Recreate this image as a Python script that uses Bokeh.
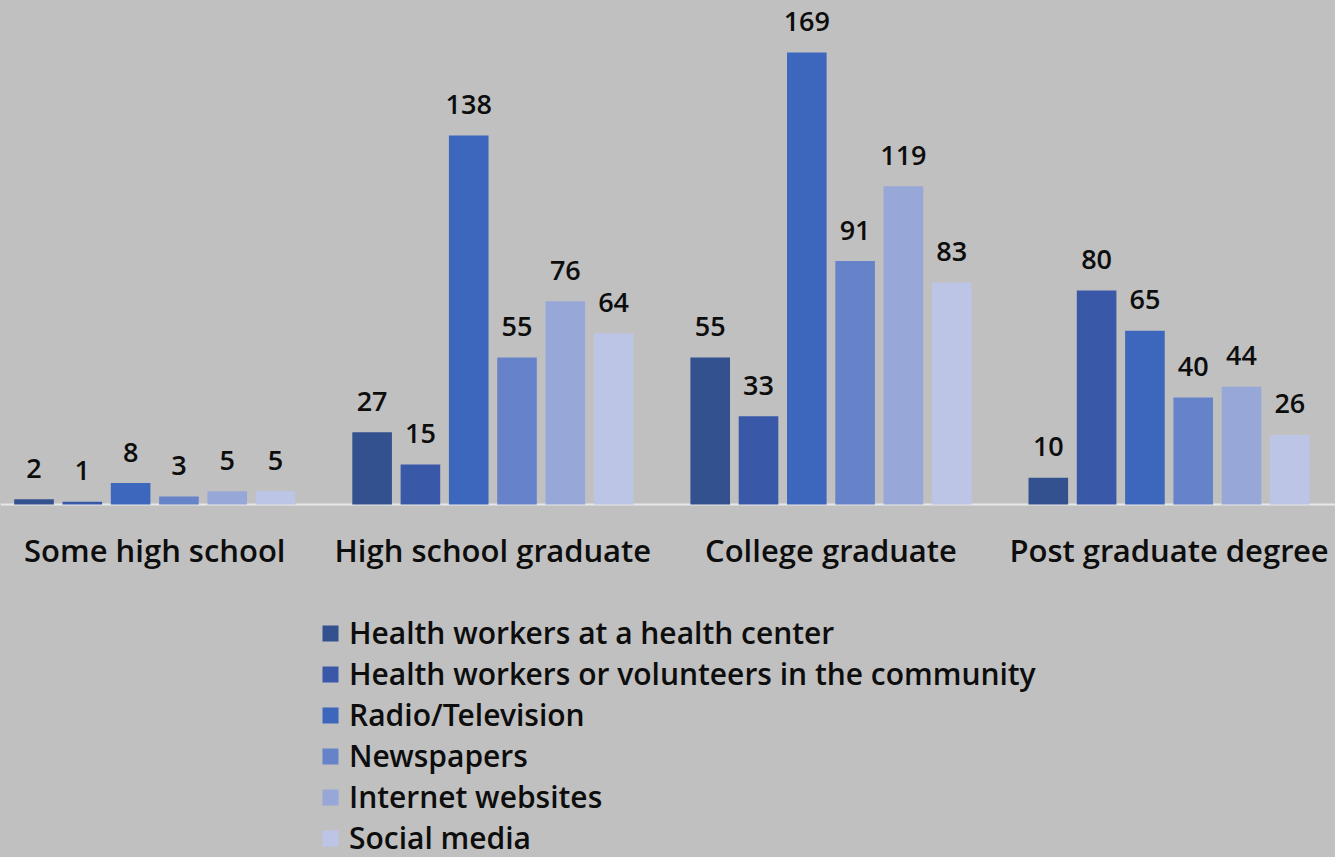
from bokeh.plotting import figure
from bokeh.models import ColumnDataSource, Range1d, Span, Legend, LegendItem
from bokeh.core.properties import value
from bokeh.embed import file_html
from bokeh.resources import INLINE

categories = ["Some high school", "High school graduate", "College graduate", "Post graduate degree"]
series = [
    "Health workers at a health center",
    "Health workers or volunteers in the community",
    "Radio/Television",
    "Newspapers",
    "Internet websites",
    "Social media",
]
health_center = [2, 27, 55, 10]
community = [1, 15, 33, 80]
radio_tv = [8, 138, 169, 65]
newspapers = [3, 55, 91, 40]
internet = [5, 76, 119, 44]
social = [5, 64, 83, 26]

colors = ["#34518f", "#3959a8", "#3d66bd", "#6682c9", "#97a7d7", "#bcc5e6"]

values = [health_center, community, radio_tv, newspapers, internet, social]
n = len(series)
gap = 1
W, H = 1335, 857
BG = "#c0c0c0"
FONT = "Open Sans SemiBold"

p = figure(width=W, height=H, output_backend="svg", toolbar_location=None,
           x_range=Range1d(-0.194, 27.446), y_range=Range1d(-131.98, 188.44),
           min_border=0, x_axis_location=None, y_axis_location=None,
           background_fill_color=BG, border_fill_color=BG, outline_line_color=None)
p.grid.visible = False

p.add_layout(Span(location=0, dimension="width", line_color="#e8e8e8", line_width=2, level="underlay"))

items = []
for s in range(n):
    xs = [g * (n + gap) + s + 0.5 for g in range(len(categories))]
    src = ColumnDataSource(dict(x=xs, top=values[s], label=[str(v) for v in values[s]]))
    r = p.vbar(x="x", top="top", bottom=0, width=0.82, source=src,
               fill_color=colors[s], line_color=None)
    p.text(x="x", y="top", text="label", source=src, text_align="center",
           text_baseline="alphabetic", y_offset=-31, text_font=value(FONT),
           text_font_size="27px", text_color="#0d0d0d")
    items.append(LegendItem(label=series[s], renderers=[r]))

gsrc = ColumnDataSource(dict(x=[g * (n + gap) + n / 2 for g in range(len(categories))],
                             y=[0] * len(categories), text=categories))
p.text(x="x", y="y", text="text", source=gsrc, text_align="center",
       text_baseline="alphabetic", y_offset=45, text_font=value(FONT),
       text_font_size="31px", text_color="#0d0d0d")

legend = Legend(items=items, location=(320, -1), padding=0, margin=0, spacing=-1,
                label_height=39, glyph_height=20, glyph_width=20, label_standoff=9,
                border_line_color=None, background_fill_alpha=0,
                label_text_font=FONT,
                label_text_font_size="30px", label_text_color="#0d0d0d")
p.add_layout(legend)

html = file_html(p, INLINE)
html = html.replace("<head>", "<head><style>html, body {background:#c0c0c0;}</style>", 1)
open("out.html", "w").write(html)
